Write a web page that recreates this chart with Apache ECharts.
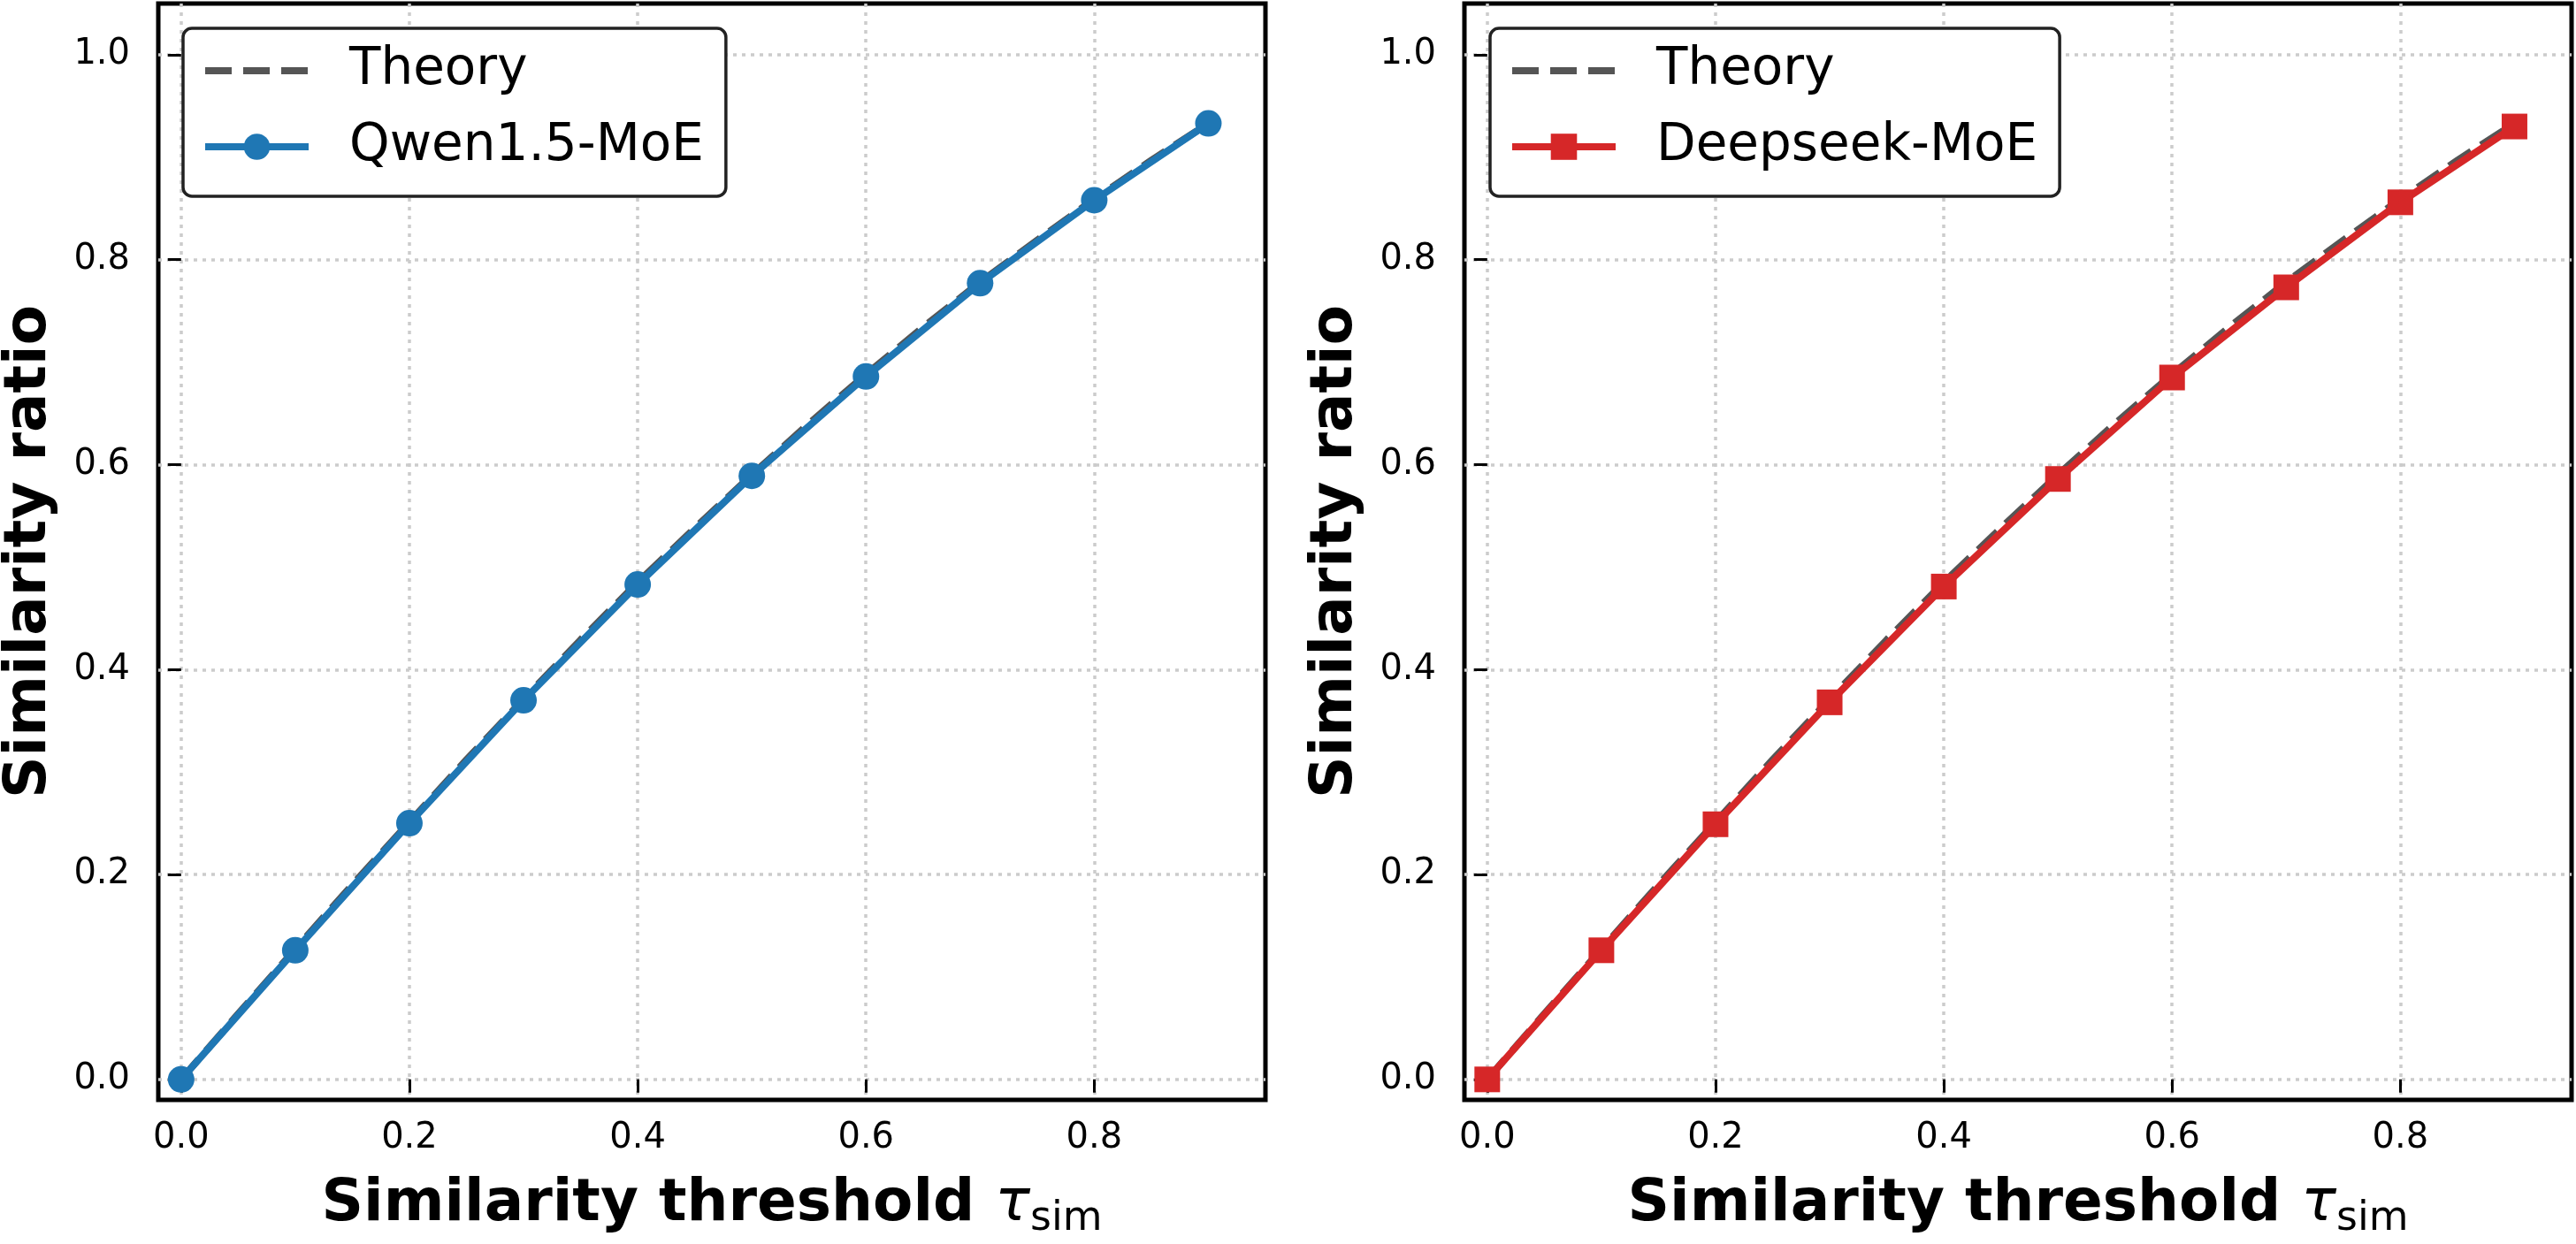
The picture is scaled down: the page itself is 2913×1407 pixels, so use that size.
<!DOCTYPE html>
<html>
<head>
<meta charset="utf-8">
<script src="https://cdn.jsdelivr.net/npm/echarts@6/dist/echarts.min.js"></script>
<style>
html,body{margin:0;padding:0;background:#fff;}
#chart{width:2913px;height:1407px;}
</style>
</head>
<body>
<div id="chart"></div>
<script>
// ---- data ----
const thresholds = [0.0, 0.1, 0.2, 0.3, 0.4, 0.5, 0.6, 0.7, 0.8, 0.9];
const qwenValues = [0.000, 0.126, 0.250, 0.370, 0.483, 0.589, 0.686, 0.777, 0.858, 0.933];
const deepseekValues = [0.000, 0.126, 0.249, 0.368, 0.481, 0.586, 0.685, 0.773, 0.856, 0.930];
const theoryX = [0.0, 0.05, 0.1, 0.15, 0.2, 0.25, 0.3, 0.35, 0.4, 0.45, 0.5, 0.55, 0.6, 0.65, 0.7, 0.75, 0.8, 0.85, 0.9];
const theoryValues = [0.000, 0.064, 0.127, 0.190, 0.251, 0.312, 0.371, 0.429, 0.485, 0.538, 0.590, 0.640, 0.688, 0.734, 0.778, 0.819, 0.859, 0.897, 0.933];
const xTicks = [0.0, 0.2, 0.4, 0.6, 0.8];
const yTicks = [0.0, 0.2, 0.4, 0.6, 0.8, 1.0];
const seriesNames = ['Theory', 'Qwen1.5-MoE', 'Deepseek-MoE'];

const FONT = 'DejaVu Sans';
const pair = (xs, ys) => xs.map((x, i) => [x, ys[i]]);

const chart = echarts.init(document.getElementById('chart'), null, {renderer: 'canvas'});

const grids = [
  {left: 179, top: 4, width: 1252, height: 1250},
  {left: 1656, top: 4, width: 1252, height: 1250}
].map(g => Object.assign(g, {show: true, borderColor: '#000', borderWidth: 5, backgroundColor: '#fff', containLabel: false}));

function xAxisDef(i) {
  return {
    type: 'value', gridIndex: i, min: -0.02, max: 0.95,
    axisLine: {show: false},
    axisTick: {show: true, customValues: xTicks, length: 15, lineStyle: {color: '#000', width: 3}},
    axisLabel: {customValues: xTicks, margin: 24, fontSize: 40, fontFamily: FONT, color: '#000',
      formatter: v => v.toFixed(1)},
    splitLine: {show: true, lineStyle: {color: '#cccccc', width: 3.5, type: [4, 6]}},
    name: '{b|Similarity threshold }{t|τ}{s|sim}',
    nameLocation: 'middle', nameGap: 80,
    nameTextStyle: {
      rich: {
        b: {fontSize: 66, fontWeight: 'bold', fontFamily: FONT, color: '#000'},
        t: {fontSize: 66, fontStyle: 'italic', fontFamily: FONT, color: '#000'},
        s: {fontSize: 46, fontFamily: FONT, color: '#000', padding: [32, 0, 0, 0]}
      }
    }
  };
}
function yAxisDef(i) {
  return {
    type: 'value', gridIndex: i, min: -0.02, max: 1.05,
    axisLine: {show: false},
    axisTick: {show: true, customValues: yTicks, length: 15, lineStyle: {color: '#000', width: 3}},
    axisLabel: {customValues: yTicks, margin: 32, fontSize: 40, fontFamily: FONT, color: '#000',
      formatter: v => v.toFixed(1)},
    splitLine: {show: true, lineStyle: {color: '#cccccc', width: 3.5, type: [4, 6]}},
    name: 'Similarity ratio', nameLocation: 'middle', nameGap: 112,
    nameTextStyle: {fontSize: 66, fontWeight: 'bold', fontFamily: FONT, color: '#000'}
  };
}

function theorySeries(i) {
  return {
    name: seriesNames[0], type: 'line', xAxisIndex: i, yAxisIndex: i,
    data: pair(theoryX, theoryValues), symbol: 'none', smooth: false,
    lineStyle: {color: '#555555', width: 8, type: [30, 13]},
    itemStyle: {color: '#555555'}, z: 2
  };
}
function dataSeries(i, name, values, color, symbol, size) {
  return {
    name: name, type: 'line', xAxisIndex: i, yAxisIndex: i,
    data: pair(thresholds, values), symbol: symbol, symbolSize: size, showSymbol: true,
    lineStyle: {color: color, width: 8}, itemStyle: {color: color}, z: 3
  };
}

function legendDef(left, name) {
  return {
    left: left, top: 32, orient: 'vertical',
    data: [
      {name: seriesNames[0], itemStyle: {opacity: 0}},
      name
    ],
    itemWidth: 117, itemHeight: 37, itemGap: 20,
    padding: [15, 25, 23, 21],
    lineStyle: {width: 8},
    backgroundColor: '#fff', borderColor: '#222', borderWidth: 3.5, borderRadius: 10,
    textStyle: {fontSize: 58, fontFamily: FONT, color: '#000', lineHeight: 66, padding: [0, 0, 0, 41]},
    selectedMode: false
  };
}

chart.setOption({
  animation: false,
  backgroundColor: '#fff',
  grid: grids,
  xAxis: [xAxisDef(0), xAxisDef(1)],
  yAxis: [yAxisDef(0), yAxisDef(1)],
  legend: [legendDef(207, seriesNames[1]), legendDef(1685, seriesNames[2])],
  series: [
    theorySeries(0),
    dataSeries(0, seriesNames[1], qwenValues, '#1f77b4', 'circle', 30),
    theorySeries(1),
    dataSeries(1, seriesNames[2], deepseekValues, '#d62728', 'rect', 29)
  ]
});
</script>
</body>
</html>
